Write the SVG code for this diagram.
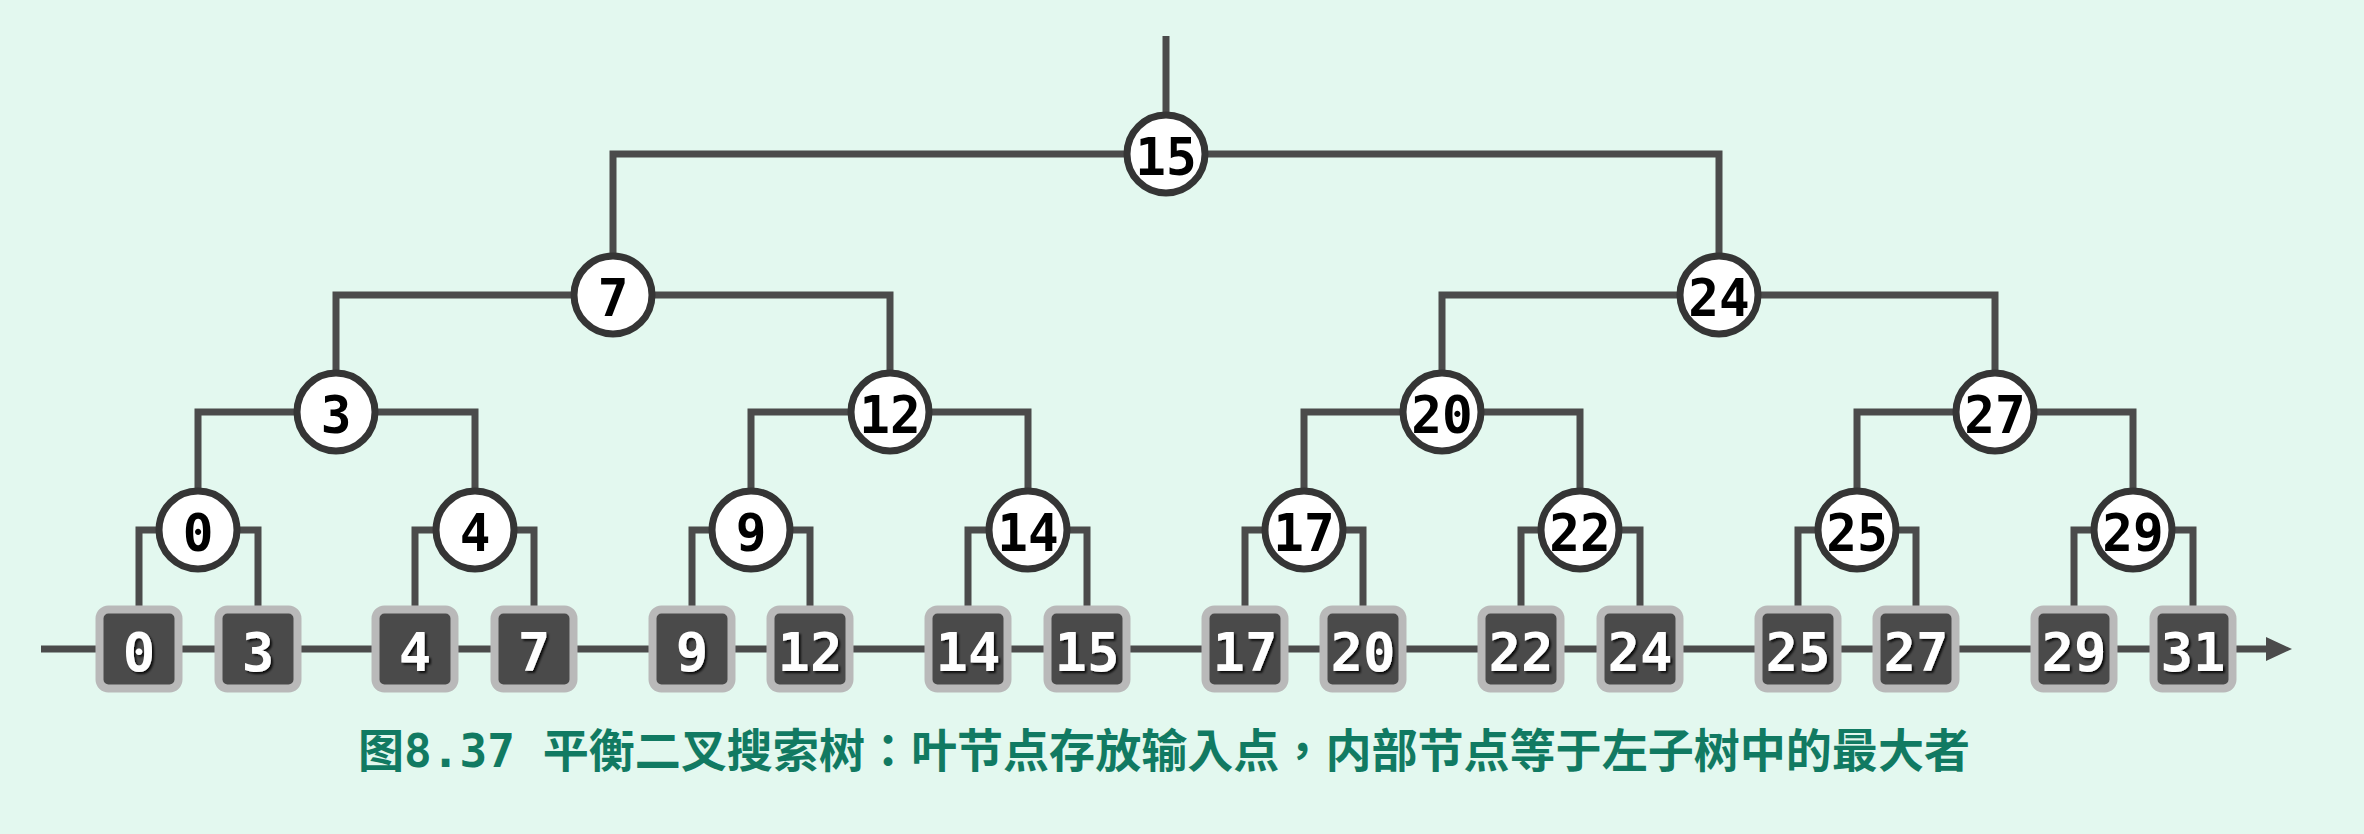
<svg xmlns="http://www.w3.org/2000/svg" width="2364" height="834" viewBox="0 0 2364 834">
<defs>
<style>
.ln{fill:none;stroke:#4b4b4b;stroke-width:7;stroke-linejoin:miter;stroke-linecap:butt}
.c{fill:#ffffff;stroke:#353535;stroke-width:7}
.ct{font-family:"DejaVu Sans Mono",monospace;font-weight:bold;font-size:51px;fill:#000;text-anchor:middle}
.b{fill:#4a4a4a;stroke:#b9b9b9;stroke-width:8}
.bt{font-family:"DejaVu Sans Mono",monospace;font-weight:bold;font-size:54px;fill:#fff;text-anchor:middle;filter:url(#sh)}
.cap{font-family:"DejaVu Sans Mono","Noto Sans CJK TC",sans-serif;font-weight:bold;font-size:46px;fill:#117a62}
</style>
<filter id="sh" x="-20%" y="-20%" width="140%" height="140%">
<feDropShadow dx="2" dy="2" stdDeviation="1" flood-color="#000" flood-opacity="0.85"/>
</filter>
<marker id="arr" markerWidth="10" markerHeight="10" refX="0" refY="0" orient="auto" overflow="visible" markerUnits="userSpaceOnUse">
<path d="M-4,-12 L22,0 L-4,12 Z" fill="#4b4b4b"/>
</marker>
</defs>
<rect width="2364" height="834" fill="#e3f8ef"/>
<g id="connectors">
<path class="ln" d="M41,649 H2270" marker-end="url(#arr)"/>
<path class="ln" d="M1166,36 V154"/>
<path class="ln" d="M613,295 V154 H1719 V295"/>
<path class="ln" d="M336,412 V295 H890 V412"/>
<path class="ln" d="M1442,412 V295 H1995 V412"/>
<path class="ln" d="M198,530 V412 H475 V530"/>
<path class="ln" d="M751,530 V412 H1028 V530"/>
<path class="ln" d="M1304,530 V412 H1580 V530"/>
<path class="ln" d="M1857,530 V412 H2133 V530"/>
<path class="ln" d="M139,606 V530 H258 V606"/>
<path class="ln" d="M415,606 V530 H534 V606"/>
<path class="ln" d="M692,606 V530 H810 V606"/>
<path class="ln" d="M968,606 V530 H1087 V606"/>
<path class="ln" d="M1245,606 V530 H1363 V606"/>
<path class="ln" d="M1521,606 V530 H1640 V606"/>
<path class="ln" d="M1798,606 V530 H1916 V606"/>
<path class="ln" d="M2074,606 V530 H2193 V606"/>
</g>
<g id="n15"><circle class="c" cx="1166" cy="154" r="39"/><text class="ct" x="1166" y="175">15</text></g>
<g id="n7"><circle class="c" cx="613" cy="295" r="39"/><text class="ct" x="613" y="316">7</text></g>
<g id="n24"><circle class="c" cx="1719" cy="295" r="39"/><text class="ct" x="1719" y="316">24</text></g>
<g id="n3"><circle class="c" cx="336" cy="412" r="39"/><text class="ct" x="336" y="433">3</text></g>
<g id="n12"><circle class="c" cx="890" cy="412" r="39"/><text class="ct" x="890" y="433">12</text></g>
<g id="n20"><circle class="c" cx="1442" cy="412" r="39"/><text class="ct" x="1442" y="433">20</text></g>
<g id="n27"><circle class="c" cx="1995" cy="412" r="39"/><text class="ct" x="1995" y="433">27</text></g>
<g id="n0"><circle class="c" cx="198" cy="530" r="39"/><text class="ct" x="198" y="551">0</text></g>
<g id="n4"><circle class="c" cx="475" cy="530" r="39"/><text class="ct" x="475" y="551">4</text></g>
<g id="n9"><circle class="c" cx="751" cy="530" r="39"/><text class="ct" x="751" y="551">9</text></g>
<g id="n14"><circle class="c" cx="1028" cy="530" r="39"/><text class="ct" x="1028" y="551">14</text></g>
<g id="n17"><circle class="c" cx="1304" cy="530" r="39"/><text class="ct" x="1304" y="551">17</text></g>
<g id="n22"><circle class="c" cx="1580" cy="530" r="39"/><text class="ct" x="1580" y="551">22</text></g>
<g id="n25"><circle class="c" cx="1857" cy="530" r="39"/><text class="ct" x="1857" y="551">25</text></g>
<g id="n29"><circle class="c" cx="2133" cy="530" r="39"/><text class="ct" x="2133" y="551">29</text></g>
<g id="l0"><rect class="b" x="99.5" y="609.5" width="79" height="79" rx="9"/><text class="bt" x="139" y="671">0</text></g>
<g id="l3"><rect class="b" x="218.5" y="609.5" width="79" height="79" rx="9"/><text class="bt" x="258" y="671">3</text></g>
<g id="l4"><rect class="b" x="375.5" y="609.5" width="79" height="79" rx="9"/><text class="bt" x="415" y="671">4</text></g>
<g id="l7"><rect class="b" x="494.5" y="609.5" width="79" height="79" rx="9"/><text class="bt" x="534" y="671">7</text></g>
<g id="l9"><rect class="b" x="652.5" y="609.5" width="79" height="79" rx="9"/><text class="bt" x="692" y="671">9</text></g>
<g id="l12"><rect class="b" x="770.5" y="609.5" width="79" height="79" rx="9"/><text class="bt" x="810" y="671">12</text></g>
<g id="l14"><rect class="b" x="928.5" y="609.5" width="79" height="79" rx="9"/><text class="bt" x="968" y="671">14</text></g>
<g id="l15"><rect class="b" x="1047.5" y="609.5" width="79" height="79" rx="9"/><text class="bt" x="1087" y="671">15</text></g>
<g id="l17"><rect class="b" x="1205.5" y="609.5" width="79" height="79" rx="9"/><text class="bt" x="1245" y="671">17</text></g>
<g id="l20"><rect class="b" x="1323.5" y="609.5" width="79" height="79" rx="9"/><text class="bt" x="1363" y="671">20</text></g>
<g id="l22"><rect class="b" x="1481.5" y="609.5" width="79" height="79" rx="9"/><text class="bt" x="1521" y="671">22</text></g>
<g id="l24"><rect class="b" x="1600.5" y="609.5" width="79" height="79" rx="9"/><text class="bt" x="1640" y="671">24</text></g>
<g id="l25"><rect class="b" x="1758.5" y="609.5" width="79" height="79" rx="9"/><text class="bt" x="1798" y="671">25</text></g>
<g id="l27"><rect class="b" x="1876.5" y="609.5" width="79" height="79" rx="9"/><text class="bt" x="1916" y="671">27</text></g>
<g id="l29"><rect class="b" x="2034.5" y="609.5" width="79" height="79" rx="9"/><text class="bt" x="2074" y="671">29</text></g>
<g id="l31"><rect class="b" x="2153.5" y="609.5" width="79" height="79" rx="9"/><text class="bt" x="2193" y="671">31</text></g>
<g id="caption"><text class="cap" x="358" y="767" textLength="1612" lengthAdjust="spacingAndGlyphs">图8.37 平衡二叉搜索树：叶节点存放输入点，内部节点等于左子树中的最大者</text></g>
</svg>
